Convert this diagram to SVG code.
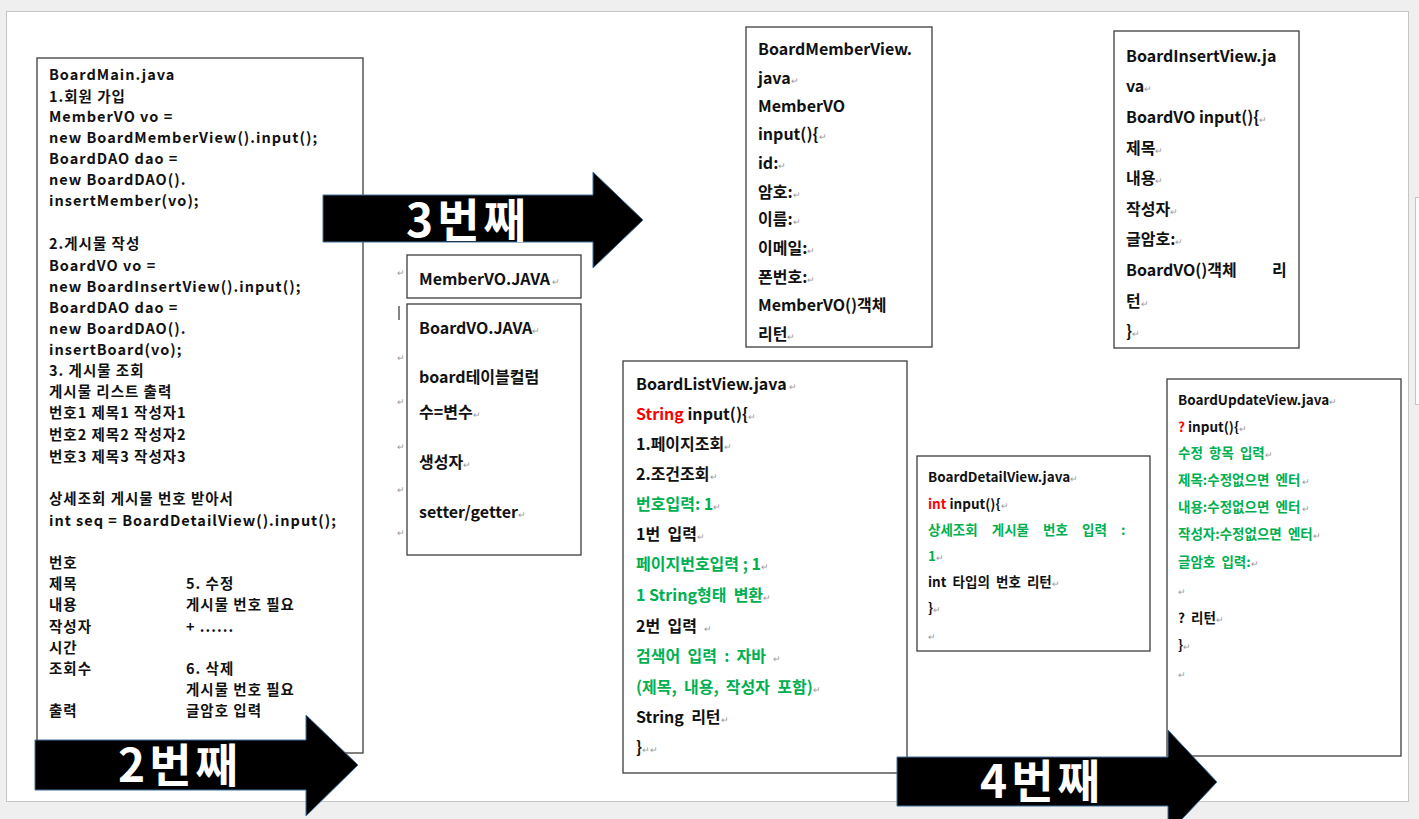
<svg xmlns="http://www.w3.org/2000/svg" width="1419" height="819" viewBox="0 0 1419 819">
<style>
.page{fill:#fff;stroke:#c4c4c4;stroke-width:1}
.box{fill:#fff;stroke:#3c3c3c;stroke-width:1.3}
text{font-family:"Noto Sans CJK KR","Noto Sans",sans-serif;font-weight:700;fill:#111;font-size:16px;white-space:pre}
.m{font-size:14.5px;letter-spacing:1px}
.s{font-size:13.5px}
.g{fill:#00b050}
.r{fill:#ff0000}
.pm{fill:#9a9a9a;font-size:9px;font-weight:400;letter-spacing:0}
.arrow{fill:#000;stroke:#41719c;stroke-width:1}
.at{fill:#fff;font-size:46px;text-anchor:middle;letter-spacing:4px}
</style>
<rect x="0" y="0" width="1419" height="819" fill="#efefef"/>
<rect class="page" x="6.5" y="11.5" width="1402" height="790"/>
<rect class="page" x="1415.5" y="197.5" width="10" height="207"/>

<g id="boardMain">
<rect class="box" x="37" y="58" width="326" height="695"/>
<text class="m" x="49" y="80">BoardMain.java</text>
<text class="m" x="49" y="102">1.회원 가입</text>
<text class="m" x="49" y="122">MemberVO vo =</text>
<text class="m" x="49" y="143">new BoardMemberView().input();</text>
<text class="m" x="49" y="164">BoardDAO dao =</text>
<text class="m" x="49" y="185">new BoardDAO().</text>
<text class="m" x="49" y="206">insertMember(vo);</text>
<text class="m" x="49" y="249">2.게시물 작성</text>
<text class="m" x="49" y="271">BoardVO vo =</text>
<text class="m" x="49" y="292">new BoardInsertView().input();</text>
<text class="m" x="49" y="313">BoardDAO dao =</text>
<text class="m" x="49" y="334">new BoardDAO().</text>
<text class="m" x="49" y="355">insertBoard(vo);</text>
<text class="m" x="49" y="376">3. 게시물 조회</text>
<text class="m" x="49" y="397">게시물 리스트 출력</text>
<text class="m" x="49" y="418">번호1 제목1 작성자1</text>
<text class="m" x="49" y="440">번호2 제목2 작성자2</text>
<text class="m" x="49" y="462">번호3 제목3 작성자3</text>
<text class="m" x="49" y="504">상세조회 게시물 번호 받아서</text>
<text class="m" x="49" y="526">int seq = BoardDetailView().input();</text>
<text class="m" x="49" y="568">번호</text>
<text class="m" x="49" y="589">제목</text>
<text class="m" x="49" y="610">내용</text>
<text class="m" x="49" y="632">작성자</text>
<text class="m" x="49" y="653">시간</text>
<text class="m" x="49" y="674">조회수</text>
<text class="m" x="49" y="716">출력</text>
<text class="m" x="186" y="589">5. 수정</text>
<text class="m" x="186" y="610">게시물 번호 필요</text>
<text class="m" x="186" y="632">+ ......</text>
<text class="m" x="186" y="674">6. 삭제</text>
<text class="m" x="186" y="695">게시물 번호 필요</text>
<text class="m" x="186" y="716">글암호 입력</text>
</g>

<g id="memberVO">
<rect class="box" x="407" y="255" width="174" height="43"/>
<text x="419" y="285">MemberVO.JAVA<tspan class="pm"> ↵</tspan></text>
</g>

<g id="boardVO">
<rect class="box" x="407" y="304" width="174" height="251"/>
<text x="419" y="334">BoardVO.JAVA<tspan class="pm">↵</tspan></text>
<text x="419" y="383">board테이블컬럼</text>
<text x="419" y="418">수=변수<tspan class="pm">↵</tspan></text>
<text x="419" y="468">생성자<tspan class="pm">↵</tspan></text>
<text x="419" y="518">setter/getter<tspan class="pm">↵</tspan></text>
<text class="pm" x="397" y="276">↵</text>
<text class="pm" x="397" y="361">↵</text>
<text class="pm" x="397" y="405">↵</text>
<text class="pm" x="397" y="450">↵</text>
<text class="pm" x="397" y="493">↵</text>
<text class="pm" x="397" y="536">↵</text>
<line x1="399" y1="306" x2="399" y2="320" stroke="#333" stroke-width="1.2"/>
</g>

<g id="boardMemberView">
<rect class="box" x="746" y="27" width="186" height="320"/>
<text x="758" y="55">BoardMemberView.</text>
<text x="758" y="84">java<tspan class="pm">↵</tspan></text>
<text x="758" y="112">MemberVO</text>
<text x="758" y="140">input(){<tspan class="pm">↵</tspan></text>
<text x="758" y="169">id:<tspan class="pm">↵</tspan></text>
<text x="758" y="198">암호:<tspan class="pm">↵</tspan></text>
<text x="758" y="225">이름:<tspan class="pm">↵</tspan></text>
<text x="758" y="254">이메일:<tspan class="pm">↵</tspan></text>
<text x="758" y="283">폰번호:<tspan class="pm">↵</tspan></text>
<text x="758" y="311">MemberVO()객체</text>
<text x="758" y="340">리턴<tspan class="pm">↵</tspan></text>
</g>

<g id="boardInsertView">
<rect class="box" x="1114" y="31" width="185" height="317"/>
<text x="1126" y="62">BoardInsertView.ja</text>
<text x="1126" y="92">va<tspan class="pm">↵</tspan></text>
<text x="1126" y="123">BoardVO input(){<tspan class="pm">↵</tspan></text>
<text x="1126" y="154">제목<tspan class="pm">↵</tspan></text>
<text x="1126" y="184">내용<tspan class="pm">↵</tspan></text>
<text x="1126" y="215">작성자<tspan class="pm">↵</tspan></text>
<text x="1126" y="245">글암호:<tspan class="pm">↵</tspan></text>
<text x="1126" y="276">BoardVO()객체</text>
<text x="1272" y="276">리</text>
<text x="1126" y="307">턴<tspan class="pm">↵</tspan></text>
<text x="1126" y="337">}<tspan class="pm">↵</tspan></text>
</g>

<g id="boardListView">
<rect class="box" x="623" y="361" width="284" height="412"/>
<text x="636" y="390">BoardListView.java<tspan class="pm"> ↵</tspan></text>
<text x="636" y="420"><tspan class="r">String</tspan> input(){<tspan class="pm">↵</tspan></text>
<text x="636" y="450">1.페이지조회<tspan class="pm">↵</tspan></text>
<text x="636" y="480">2.조건조회<tspan class="pm">↵</tspan></text>
<text x="636" y="510" class="g">번호입력: 1<tspan class="pm">↵</tspan></text>
<text x="636" y="540">1번  입력<tspan class="pm">↵</tspan></text>
<text x="636" y="570" class="g">페이지번호입력 ; 1<tspan class="pm">↵</tspan></text>
<text x="636" y="601" class="g">1 String형태  변환<tspan class="pm">↵</tspan></text>
<text x="636" y="632">2번  입력  <tspan class="pm">↵</tspan></text>
<text x="636" y="662" class="g">검색어  입력  :  자바  <tspan class="pm">↵</tspan></text>
<text x="636" y="693" class="g">(제목,  내용,  작성자  포함)<tspan class="pm">↵</tspan></text>
<text x="636" y="723">String  리턴<tspan class="pm">↵</tspan></text>
<text x="636" y="753">}<tspan class="pm">↵↵</tspan></text>
</g>

<g id="boardDetailView">
<rect class="box" x="917" y="456" width="233" height="195"/>
<text class="s" x="928" y="482">BoardDetailView.java<tspan class="pm">↵</tspan></text>
<text class="s" x="928" y="509"><tspan class="r">int</tspan> input(){<tspan class="pm">↵</tspan></text>
<text class="s g" x="928" y="535" style="word-spacing:11px">상세조회 게시물 번호 입력 :</text>
<text class="s g" x="928" y="561">1<tspan class="pm">↵</tspan></text>
<text class="s" x="928" y="587">int  타입의  번호  리턴<tspan class="pm">↵</tspan></text>
<text class="s" x="928" y="613">}<tspan class="pm">↵</tspan></text>
<text class="pm" x="928" y="640">↵</text>
</g>

<g id="boardUpdateView">
<rect class="box" x="1167" y="379" width="234" height="377"/>
<text class="s" x="1178" y="405">BoardUpdateView.java<tspan class="pm">↵</tspan></text>
<text class="s" x="1178" y="432"><tspan class="r">?</tspan> input(){<tspan class="pm">↵</tspan></text>
<text class="s g" x="1178" y="458">수정  항목  입력<tspan class="pm">↵</tspan></text>
<text class="s g" x="1178" y="485">제목:수정없으면  엔터<tspan class="pm"> ↵</tspan></text>
<text class="s g" x="1178" y="512">내용:수정없으면  엔터<tspan class="pm"> ↵</tspan></text>
<text class="s g" x="1178" y="539">작성자:수정없으면  엔터<tspan class="pm">↵</tspan></text>
<text class="s g" x="1178" y="567">글암호  입력:<tspan class="pm">↵</tspan></text>
<text class="pm" x="1178" y="595">↵</text>
<text class="s" x="1178" y="623">?  리턴<tspan class="pm">↵</tspan></text>
<text class="s" x="1178" y="650">}<tspan class="pm">↵</tspan></text>
<text class="pm" x="1178" y="678">↵</text>
</g>

<g id="connectors">
<g id="arrow2">
<polygon class="arrow" points="35,740 306,740 306,715 358,765 306,816 306,790 35,790"/>
<text class="at" x="180" y="782">2번째</text>
</g>
<g id="arrow3">
<polygon class="arrow" points="323,195 593,195 593,172 643,220 593,268 593,242 323,242"/>
<text class="at" x="468" y="237">3번째</text>
</g>
<g id="arrow4">
<polygon class="arrow" points="897,757 1168,757 1168,730 1217,782 1168,834 1168,806 897,806"/>
<text class="at" x="1042" y="798">4번째</text>
</g>
</g>
</svg>
